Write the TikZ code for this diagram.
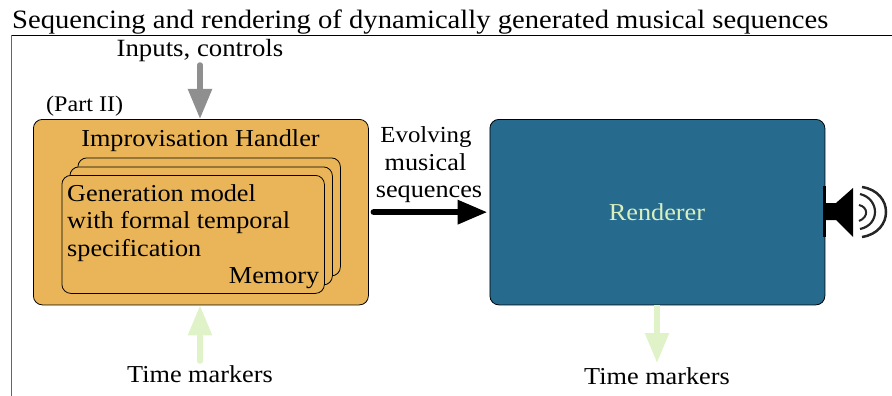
\documentclass[tikz,border=0pt]{standalone}
\usepackage{fontspec}
\setmainfont[FakeStretch=1.08]{Liberation Serif}
\usetikzlibrary{arrows.meta}
\definecolor{handlerfill}{HTML}{E9B558}
\definecolor{rendererfill}{HTML}{266A8E}
\definecolor{timegreen}{HTML}{E0F3C8}
\definecolor{rendertext}{HTML}{D8F0C0}
\definecolor{inputgray}{HTML}{8F8F8F}
\tikzset{
  x=1pt,y=-1pt,
  bigbox/.style={draw=black,line width=0.8pt,rounded corners=9pt,inner sep=0pt,anchor=north west,minimum width=335pt,minimum height=185.5pt},
  card/.style={draw=black,line width=0.8pt,rounded corners=9pt,fill=handlerfill,inner sep=0pt,anchor=north west,minimum width=262.5pt,minimum height=118pt},
  label/.style={inner sep=0pt,font=\fontsize{24.3}{28}\selectfont,text=black},
  fatarrow/.style={line width=5.5pt,-{Triangle[length=30pt,width=23pt]}},
}
\begin{document}
\begin{tikzpicture}
\useasboundingbox (0,0) rectangle (892,396);
% frame
\coordinate (frameA) at (11.5,396);
\coordinate (frameB) at (11.5,35.5);
\coordinate (frameC) at (892,35.5);
\draw[line width=0.8pt,black!60] (frameA) -- (frameB);
\draw[line width=0.8pt,black] (frameB) -- (frameC);
\node[label,font=\fontsize{26.5}{30}\selectfont,anchor=base west] (title) at (12,29) {Sequencing and rendering of dynamically generated musical sequences};
% boxes
\node[bigbox,fill=handlerfill] (handler) at (33,119) {};
\node[bigbox,fill=rendererfill] (renderer) at (489.5,119) {};
\node[label,anchor=base] (handlertitle) at (200.5,146) {Improvisation Handler};
\node[card] (cardc) at (77.5,157.5) {};
\node[card] (cardb) at (69.5,166.5) {};
\node[card] (carda) at (61.5,175) {};
\node[label,anchor=base west] (gen1) at (67,201) {Generation model};
\node[label,anchor=base west] (gen2) at (67,228) {with formal temporal};
\node[label,anchor=base west] (gen3) at (67,256) {specification};
\node[label,anchor=base east] (memory) at (319.5,283) {Memory};
\node[label,text=rendertext,anchor=base] (rendlabel) at (657,220) {Renderer};
% labels
\node[label,font=\fontsize{24.8}{28}\selectfont,anchor=base] (inputs) at (200,57) {Inputs, controls};
\node[label,font=\fontsize{22.3}{26}\selectfont,anchor=base west] (part) at (46,111) {(Part II)};
\node[label,anchor=base] (tm1) at (200,382) {Time markers};
\node[label,anchor=base] (tm2) at (657,384) {Time markers};
\node[label,font=\fontsize{23}{27}\selectfont,anchor=base] (evo1) at (426,142) {Evolving};
\node[label,anchor=base] (evo2) at (425.5,170) {musical};
\node[label,anchor=base] (evo3) at (429,197) {sequences};
% arrows
\coordinate (inA) at (200,65);
\coordinate (tm1A) at (200,361);
\coordinate (tm2A) at (657,305);
\coordinate (tm2B) at (657,363);
\draw[fatarrow,line cap=round,draw=inputgray,fill=inputgray] (inA) -- (inA |- handler.north);
\draw[fatarrow,line cap=round,draw=timegreen,fill=timegreen] (tm1A) -- (tm1A |- handler.south);
\draw[fatarrow,draw=timegreen,fill=timegreen] (tm2A) -- (tm2B);
\draw[fatarrow,line width=6.5pt,line cap=round,shorten <=5pt,shorten >=2pt] (handler.east) -- (renderer.west);
% speaker
\fill[black] (823,186) rectangle (826,237);
\fill[black] (826,203) -- (836,203) -- (853,188) -- (853,237) -- (836,220) -- (826,220) -- cycle;
\draw[line width=2pt,black!85] (859,205) .. controls (868,207) and (869,217) .. (859,221);
\draw[line width=2.2pt,black!85] (860,194) .. controls (880,199) and (880,225) .. (860,229);
\draw[line width=2.5pt,black!85] (862,187) .. controls (894,192) and (894,232) .. (862,237);
\end{tikzpicture}
\end{document}
